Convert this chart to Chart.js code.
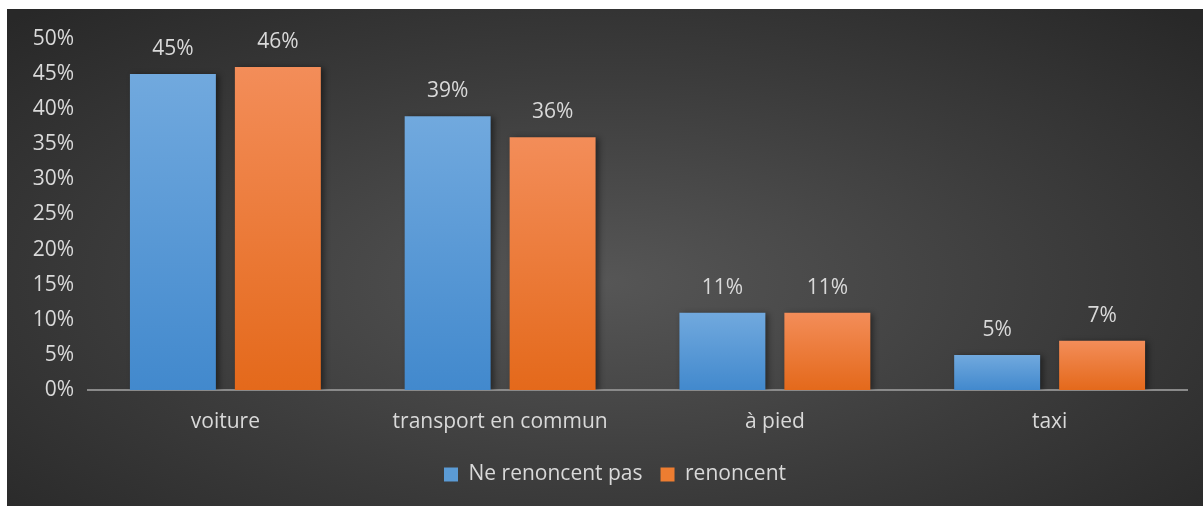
<!DOCTYPE html>
<html>
<head>
<meta charset="utf-8">
<script src="https://cdn.jsdelivr.net/npm/chart.js@4"></script>
<style>
  body { margin: 0; background: #fff; }
  #wrap {
    position: absolute; left: 7px; top: 9px; width: 1196px; height: 497px;
    background: radial-gradient(ellipse 70% 75% at 50% 55%, #565656 0%, #3c3c3c 55%, #282828 100%);
  }
</style>
</head>
<body>
<div id="wrap"><canvas id="barChart"></canvas></div>
<script>
  const categories = ['voiture', 'transport en commun', 'à pied', 'taxi'];
  const nePasRenoncer = [45, 39, 11, 5];
  const renoncent = [46, 36, 11, 7];
  const yTicks = [0, 5, 10, 15, 20, 25, 30, 35, 40, 45, 50];

  const textColor = '#d9d9d9';
  const fontFamily = '"Open Sans", Lato, sans-serif';
  const fontSize = 21;

  // per-bar vertical gradient, light at top
  function barGradient(light, dark) {
    return function (ctx) {
      const chart = ctx.chart;
      const y = chart.scales && chart.scales.y;
      if (!y || ctx.raw === undefined) return dark;
      const top = y.getPixelForValue(ctx.raw);
      const bottom = y.getPixelForValue(0);
      const g = chart.ctx.createLinearGradient(0, top, 0, bottom);
      g.addColorStop(0, light);
      g.addColorStop(1, dark);
      return g;
    };
  }

  const valueLabels = {
    id: 'valueLabels',
    afterDatasetsDraw(chart) {
      const ctx = chart.ctx;
      ctx.save();
      ctx.font = fontSize + 'px ' + fontFamily;
      ctx.fillStyle = textColor;
      ctx.textAlign = 'center';
      ctx.textBaseline = 'middle';
      chart.data.datasets.forEach(function (ds, i) {
        chart.getDatasetMeta(i).data.forEach(function (bar, j) {
          ctx.fillText(ds.data[j] + '%', bar.x, bar.y - 25);
        });
      });
      ctx.restore();
    }
  };

  const barShadow = {
    id: 'barShadow',
    beforeDatasetsDraw(chart) {
      const ctx = chart.ctx;
      ctx.save();
      ctx.shadowColor = 'rgba(0,0,0,0.45)';
      ctx.shadowBlur = 6;
      ctx.shadowOffsetX = 3;
      ctx.shadowOffsetY = 1;
    },
    afterDatasetsDraw(chart) {
      chart.ctx.restore();
    }
  };

  // legend sits a bit right of centre in the original
  const legendShift = {
    id: 'legendShift',
    afterLayout(chart) {
      if (chart.legend) {
        chart.legend.left += 18;
        chart.legend.right += 18;
      }
    }
  };

  new Chart(document.getElementById('barChart'), {
    type: 'bar',
    data: {
      labels: categories,
      datasets: [{
        label: 'Ne renoncent pas',
        data: nePasRenoncer,
        backgroundColor: barGradient('#71a9de', '#4289cd')
      }, {
        label: 'renoncent',
        data: renoncent,
        backgroundColor: barGradient('#f38d59', '#e4691b')
      }]
    },
    options: {
      responsive: true,
      maintainAspectRatio: false,
      animation: false,
      categoryPercentage: 0.764,
      barPercentage: 0.819,
      layout: { padding: { top: 30, right: 16, bottom: 11, left: 0 } },
      plugins: {
        legend: {
          position: 'bottom',
          labels: {
            color: textColor,
            font: { family: fontFamily, size: fontSize },
            boxWidth: 14,
            boxHeight: 14,
            padding: 18,
            generateLabels(chart) {
              return chart.data.datasets.map(function (ds, i) {
                return {
                  text: ds.label,
                  fillStyle: i === 0 ? '#5b9bd5' : '#ed7d31',
                  strokeStyle: 'transparent',
                  lineWidth: 0,
                  fontColor: textColor,
                  datasetIndex: i
                };
              });
            }
          }
        },
        tooltip: { enabled: false }
      },
      scales: {
        x: {
          grid: { display: false, drawTicks: false },
          border: { display: true, color: '#8a8a8a', width: 2 },
          ticks: { color: textColor, font: { family: fontFamily, size: fontSize }, padding: 19 },
          afterFit(scale) { scale.height = 56; }
        },
        y: {
          min: 0,
          max: 50,
          grid: { display: false, drawTicks: false },
          border: { display: false },
          afterBuildTicks(scale) { scale.ticks = yTicks.map(function (v) { return { value: v }; }); },
          ticks: {
            color: textColor,
            font: { family: fontFamily, size: fontSize },
            padding: 14,
            callback: function (v) { return v + '%'; }
          },
          afterFit(scale) { scale.width = 81; }
        }
      }
    },
    plugins: [barShadow, valueLabels, legendShift]
  });
</script>
</body>
</html>
